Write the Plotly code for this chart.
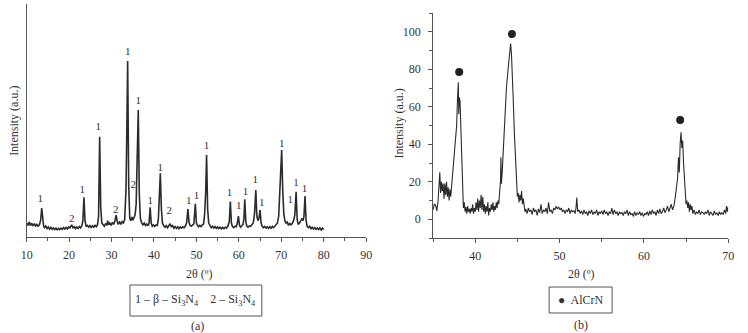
import plotly.graph_objects as go

# ---------------- Panel (a): Si3N4 XRD pattern ----------------
xrd_a_2theta = [
    10.0, 10.3, 10.6, 10.9, 11.2, 11.5, 11.8, 12.1, 12.4, 12.7, 13.0, 13.3, 13.55, 13.8, 14.0,
    14.2, 14.5, 14.8, 15.1, 15.4, 15.7, 16.0, 16.3, 16.6, 16.9, 17.2, 17.5, 17.8, 18.1, 18.4,
    18.7, 19.0, 19.3, 19.6, 19.9, 20.2, 20.6, 20.9, 21.2, 21.5, 21.8, 22.1, 22.4, 22.7, 23.0,
    23.25, 23.5, 23.75, 24.0, 24.3, 24.6, 24.9, 25.2, 25.5, 25.8, 26.1, 26.4, 26.7, 26.95, 27.2,
    27.45, 27.7, 28.0, 28.3, 28.6, 28.9, 29.1, 29.3, 29.6, 29.9, 30.2, 30.5, 30.8, 31.1, 31.35,
    31.6, 31.9, 32.2, 32.5, 32.8, 33.1, 33.4, 33.55, 33.8, 34.05, 34.3, 34.55, 34.8, 35.05, 35.3,
    35.55, 35.8, 36.05, 36.3, 36.55, 36.8, 37.1, 37.4, 37.7, 38.0, 38.3, 38.6, 38.85, 39.1, 39.35,
    39.6, 39.9, 40.2, 40.5, 40.8, 41.05, 41.25, 41.5, 41.75, 42.0, 42.3, 42.6, 42.9, 43.2, 43.5,
    43.8, 44.1, 44.4, 44.7, 45.0, 45.3, 45.6, 45.9, 46.2, 46.5, 46.8, 47.1, 47.4, 47.7, 48.0,
    48.25, 48.5, 48.8, 49.1, 49.4, 49.75, 50.0, 50.25, 50.5, 50.8, 51.1, 51.4, 51.7, 51.95, 52.2,
    52.4, 52.65, 52.9, 53.2, 53.5, 53.8, 54.1, 54.4, 54.7, 55.0, 55.3, 55.6, 55.9, 56.2, 56.5,
    56.8, 57.1, 57.4, 57.75, 58.0, 58.25, 58.5, 58.8, 59.1, 59.4, 59.65, 59.9, 60.15, 60.4, 60.7,
    61.0, 61.2, 61.4, 61.65, 61.9, 62.2, 62.5, 62.8, 63.1, 63.4, 63.7, 64.0, 64.25, 64.5, 64.75,
    65.0, 65.25, 65.5, 65.8, 66.1, 66.4, 66.7, 67.0, 67.3, 67.6, 67.9, 68.2, 68.5, 68.8, 69.1,
    69.4, 69.65, 69.85, 70.1, 70.35, 70.6, 70.85, 71.1, 71.4, 71.7, 72.0, 72.3, 72.6, 72.9, 73.2,
    73.5, 73.75, 74.0, 74.3, 74.6, 74.9, 75.15, 75.35, 75.6, 75.85, 76.1, 76.4, 76.7, 77.0, 77.3,
    77.6, 77.9, 78.2, 78.5, 78.8, 79.1, 79.4, 79.7, 80.0,
]
xrd_a_intensity = [
    6.0, 5.0, 6.4, 4.9, 5.9, 4.8, 5.7, 4.7, 5.4, 4.6, 5.2, 7.2, 12.4, 6.0, 4.6,
    4.0, 4.7, 3.6, 4.3, 3.4, 4.1, 3.3, 3.9, 3.2, 3.8, 3.1, 3.7, 3.2, 3.8, 3.3,
    4.0, 3.4, 4.1, 3.5, 4.3, 3.9, 5.2, 4.0, 4.4, 3.6, 4.3, 3.7, 4.5, 3.9, 4.8,
    7.0, 17.0, 7.0, 4.5, 5.0, 4.2, 4.9, 4.1, 4.8, 4.2, 5.0, 4.4, 5.3, 9.0, 43.0,
    13.0, 6.0, 5.5, 4.6, 5.8, 5.0, 7.0, 5.2, 6.0, 5.0, 6.2, 5.4, 7.0, 9.4, 6.5,
    5.4, 6.4, 5.6, 6.6, 6.0, 7.5, 20.0, 38.0, 75.5, 22.0, 8.0, 7.0, 8.6, 7.2, 9.0,
    9.5, 14.0, 35.0, 54.5, 18.0, 8.0, 6.0, 5.2, 6.0, 5.0, 5.6, 4.8, 6.0, 12.8, 6.0,
    4.6, 5.2, 4.5, 5.2, 5.0, 8.0, 16.0, 27.4, 12.0, 6.0, 4.8, 4.2, 4.9, 4.0, 4.8,
    5.7, 4.4, 4.9, 3.8, 4.5, 3.7, 4.4, 3.6, 4.3, 3.8, 4.4, 4.0, 4.7, 6.0, 12.0,
    6.5, 5.0, 4.6, 5.3, 5.6, 14.2, 6.0, 5.0, 4.4, 5.0, 4.5, 5.2, 5.6, 10.0, 20.0,
    35.2, 12.0, 6.0, 4.6, 4.0, 4.6, 3.9, 4.5, 3.7, 4.3, 3.6, 4.2, 3.5, 4.1, 3.6,
    4.2, 3.8, 4.6, 6.5, 15.2, 6.0, 4.5, 4.0, 4.6, 4.4, 6.0, 9.0, 5.0, 4.2, 4.8,
    5.5, 8.0, 16.2, 6.5, 4.6, 4.2, 4.8, 4.6, 5.4, 6.0, 10.0, 20.2, 9.0, 7.0, 8.0,
    11.6, 6.0, 4.6, 4.0, 4.5, 3.8, 4.3, 3.7, 4.4, 3.8, 4.5, 4.0, 4.8, 5.4, 6.0,
    9.0, 22.0, 32.0, 37.3, 20.0, 10.0, 7.0, 6.0, 6.4, 5.0, 5.8, 5.2, 5.8, 7.0, 9.5,
    19.4, 7.5, 5.4, 6.0, 7.0, 8.0, 7.0, 9.0, 17.6, 7.0, 4.6, 4.0, 4.6, 3.6, 4.2,
    3.4, 4.0, 3.3, 3.9, 3.2, 3.9, 3.0, 3.8, 3.2,
]
label_a_x = [13.2, 20.6, 23.1, 26.9, 31.0, 33.8, 35.1, 36.3, 39.1, 41.5, 43.6, 48.2,
             50.0, 52.4, 57.8, 60.0, 61.6, 63.9, 65.4, 70.1, 72.1, 73.5, 75.5]
label_a_y = [16.2, 7.7, 19.9, 47.1, 11.6, 79.3, 22.3, 58.1, 15.2, 29.7, 10.9, 15.5,
             17.3, 38.8, 18.8, 13.0, 19.0, 24.5, 14.5, 39.9, 15.9, 23.0, 20.7]
label_a_text = ["1", "2", "1", "1", "2", "1", "2", "1", "1", "1", "2", "1",
                "1", "1", "1", "1", "1", "1", "1", "1", "1", "1", "1"]
ticks_a = [10, 20, 30, 40, 50, 60, 70, 80, 90]

# ---------------- Panel (b): AlCrN XRD pattern ----------------
xrd_b_2theta = [
    35.0, 35.15, 35.3, 35.45, 35.6, 35.7, 35.8, 35.9, 36.0, 36.1, 36.2, 36.3, 36.4, 36.5, 36.6,
    36.7, 36.8, 36.9, 37.0, 37.1, 37.2, 37.3, 37.45, 37.65, 37.8, 37.9, 38.0, 38.05, 38.1, 38.2,
    38.3, 38.4, 38.5, 38.6, 38.7, 38.8, 38.9, 39.0, 39.1, 39.2, 39.3, 39.4, 39.5, 39.6, 39.7,
    39.8, 39.9, 40.0, 40.1, 40.2, 40.3, 40.4, 40.5, 40.6, 40.7, 40.8, 40.9, 41.0, 41.1, 41.2,
    41.3, 41.4, 41.5, 41.6, 41.7, 41.8, 41.9, 42.0, 42.1, 42.2, 42.3, 42.4, 42.5, 42.6, 42.7,
    42.8, 42.9, 43.0, 43.05, 43.1, 43.2, 43.35, 43.5, 43.7, 43.9, 44.05, 44.2, 44.3, 44.4, 44.5,
    44.65, 44.8, 44.9, 45.0, 45.1, 45.2, 45.3, 45.4, 45.5, 45.6, 45.7, 45.8,
    45.9, 46.0, 46.15, 46.3, 46.45, 46.6, 46.75, 46.9, 47.05, 47.2, 47.35, 47.5, 47.65, 47.8, 47.95,
    48.1, 48.25, 48.4, 48.55, 48.7, 48.85, 49.0, 49.15, 49.3, 49.45, 49.6, 49.75, 49.9, 50.05, 50.2,
    50.35, 50.5, 50.65, 50.8, 50.95, 51.1, 51.25, 51.4, 51.55, 51.7, 51.85, 51.95, 52.05, 52.15, 52.3,
    52.45, 52.6, 52.75, 52.9, 53.05, 53.2, 53.35, 53.5, 53.65, 53.8, 53.95, 54.1, 54.25, 54.4, 54.55,
    54.7, 54.85, 55.0, 55.15, 55.3, 55.45, 55.6, 55.75, 55.9, 56.05, 56.2, 56.35, 56.5, 56.65, 56.8,
    56.95, 57.1, 57.25, 57.4, 57.55, 57.7, 57.85, 58.0, 58.15, 58.3, 58.45, 58.6, 58.75, 58.9, 59.05,
    59.2, 59.35, 59.5, 59.65, 59.8, 59.95, 60.1, 60.25, 60.4, 60.55, 60.7, 60.85, 61.0, 61.15, 61.3,
    61.45, 61.6, 61.75, 61.9, 62.05, 62.2, 62.35, 62.5, 62.65, 62.8, 62.95, 63.1, 63.25, 63.4, 63.55,
    63.7, 63.8, 63.9, 64.0, 64.1, 64.2, 64.3, 64.4, 64.5, 64.6, 64.7, 64.8, 64.9, 65.0, 65.1,
    65.2, 65.3, 65.4, 65.5, 65.6, 65.7, 65.8, 65.95, 66.1, 66.25, 66.4, 66.55, 66.7, 66.85, 67.0,
    67.15, 67.3, 67.45, 67.6, 67.75, 67.9, 68.05, 68.2, 68.35, 68.5, 68.65, 68.8, 68.95, 69.1, 69.25,
    69.4, 69.55, 69.7, 69.8, 69.9, 70.0,
]
xrd_b_intensity = [
    5.0, 8.0, 7.5, 4.5, 10.0, 16.0, 25.0, 14.0, 20.0, 15.0, 19.0, 11.0, 19.0, 13.0, 20.0,
    12.0, 17.0, 10.0, 16.0, 12.0, 18.0, 21.0, 30.0, 42.5, 50.0, 64.0, 73.0, 56.0, 65.0, 63.0,
    46.0, 30.0, 14.0, 6.0, 9.0, 4.0, 6.5, 3.0, 7.0, 4.0, 5.5, 3.0, 6.0, 4.0, 8.0,
    3.0, 6.0, 4.0, 9.0, 5.0, 11.0, 4.0, 10.0, 6.0, 13.0, 5.0, 12.0, 4.0, 8.0, 3.0,
    7.0, 4.0, 9.0, 2.0, 6.0, 4.0, 8.0, 5.0, 9.0, 4.0, 7.0, 5.0, 9.0, 6.0, 10.0,
    8.0, 15.0, 20.0, 33.0, 19.0, 25.0, 40.0, 55.0, 70.0, 80.0, 88.0, 93.7, 88.0, 80.0, 65.0,
    45.0, 30.0, 20.0, 12.0, 14.0, 9.0, 13.0, 10.0, 15.0, 8.0, 11.0, 6.0,
    4.0, 5.5, 3.0, 6.0, 4.0, 5.0, 2.5, 6.0, 4.0, 5.0, 2.0, 5.5, 3.5, 8.0, 3.0,
    5.0, 4.0, 6.0, 3.0, 9.0, 4.0, 5.0, 3.0, 6.0, 5.0, 7.0, 5.5, 6.5, 5.0, 6.0,
    4.0, 5.0, 3.0, 5.0, 4.0, 6.0, 3.0, 5.0, 4.0, 4.5, 3.0, 6.0, 11.6, 4.0, 5.0,
    3.0, 4.5, 2.5, 5.0, 3.0, 4.0, 2.0, 4.5, 3.0, 5.0, 2.5, 4.0, 3.0, 5.0, 2.0,
    4.0, 3.0, 4.5, 2.5, 5.0, 3.0, 4.0, 2.0, 4.0, 3.0, 6.0, 2.5, 5.0, 3.0, 4.0,
    2.0, 4.0, 3.0, 3.5, 2.0, 4.0, 3.0, 5.0, 2.0, 4.0, 2.5, 3.0, 1.5, 4.0, 2.0,
    3.5, 2.5, 4.0, 2.0, 3.5, 1.5, 3.0, 2.5, 4.0, 2.0, 4.5, 2.5, 5.0, 3.0, 4.0,
    2.0, 5.0, 3.0, 5.5, 3.0, 4.0, 6.0, 3.5, 5.0, 7.0, 4.0, 6.0, 8.0, 5.0, 7.0,
    11.0, 15.0, 18.0, 22.0, 33.0, 25.0, 40.0, 46.4, 38.0, 42.0, 30.0, 20.0, 15.0, 8.0, 10.0,
    6.0, 9.0, 4.0, 8.0, 5.0, 7.0, 3.0, 5.0, 2.5, 4.0, 3.0, 5.0, 2.5, 4.0, 3.5,
    2.5, 4.0, 3.0, 5.0, 2.0, 4.0, 3.0, 2.0, 4.5, 2.5, 3.5, 2.0, 4.0, 2.5, 3.5,
    2.5, 5.0, 3.0, 7.0, 4.0, 6.5,
]
marker_b_x = [38.1, 44.35, 64.3]
marker_b_y = [78.6, 98.75, 52.9]
ticks_b_x = [40, 50, 60, 70]
ticks_b_y = [0, 20, 40, 60, 80, 100]

# ---------------- Figure ----------------
W, H = 748, 333
FONT = "Liberation Serif"
TXT = "#333333"
AX = "#555555"


def px(x):
    return x / W


def py(y):
    return 1 - y / H


fig = go.Figure()

fig.add_trace(go.Scatter(x=xrd_a_2theta, y=xrd_a_intensity, mode="lines",
                         line=dict(color="#2b2b2b", width=1.6),
                         xaxis="x", yaxis="y", showlegend=False, hoverinfo="skip"))
fig.add_trace(go.Scatter(x=label_a_x, y=label_a_y, text=label_a_text, mode="text",
                         textfont=dict(family=FONT, size=11, color=TXT),
                         xaxis="x", yaxis="y", showlegend=False, hoverinfo="skip"))

fig.add_trace(go.Scatter(x=xrd_b_2theta, y=xrd_b_intensity, mode="lines",
                         line=dict(color="#2b2b2b", width=1.1),
                         xaxis="x2", yaxis="y2", showlegend=False, hoverinfo="skip"))
fig.add_trace(go.Scatter(x=marker_b_x, y=marker_b_y, mode="markers",
                         marker=dict(color="#222222", size=8),
                         xaxis="x2", yaxis="y2", showlegend=False, hoverinfo="skip"))

common_x = dict(showgrid=False, zeroline=False, showline=True, linecolor=AX, linewidth=1,
                ticks="outside", ticklen=4, tickcolor=AX, tickwidth=1,
                tickfont=dict(family=FONT, size=12, color=TXT), ticklabelstandoff=3)

fig.update_layout(
    width=W, height=H,
    margin=dict(l=0, r=0, t=0, b=0),
    paper_bgcolor="white", plot_bgcolor="white",
    xaxis=dict(domain=[px(21), px(366)], range=[10, 90], anchor="y",
               tickvals=ticks_a, minor=dict(dtick=5, tick0=10, ticks="outside", ticklen=3, tickcolor=AX),
               **common_x),
    yaxis=dict(domain=[py(237), py(4)], range=[0, 100], anchor="x",
               showgrid=False, zeroline=False, showline=True, linecolor=AX, linewidth=1,
               showticklabels=False, ticks=""),
    xaxis2=dict(domain=[px(434), px(734)], range=[35, 70], anchor="y2",
                tickvals=ticks_b_x, minor=dict(dtick=5, tick0=35, ticks="outside", ticklen=3, tickcolor=AX),
                **common_x),
    yaxis2=dict(domain=[py(238), py(13)], range=[-10, 110], anchor="x2",
                showgrid=False, zeroline=False, showline=True, linecolor=AX, linewidth=1,
                ticks="outside", ticklen=4, tickcolor=AX, tickvals=ticks_b_y,
                minor=dict(dtick=10, tick0=0, ticks="outside", ticklen=3, tickcolor=AX),
                tickfont=dict(family=FONT, size=12, color=TXT), ticklabelstandoff=5),
)

annots = [
    dict(text="Intensity (a.u.)", x=px(8), y=py(121), textangle=-90, size=12),
    dict(text="Intensity (a.u.)", x=px(399), y=py(124), textangle=-90, size=12),
    dict(text="2θ (º)", x=px(196), y=py(274), size=12),
    dict(text="2θ (º)", x=px(584), y=py(274), size=12),
    dict(text="1 – β – Si<sub>3</sub>N<sub>4</sub>    2 – Si<sub>3</sub>N<sub>4</sub>",
         x=px(193), y=py(300), size=12),
    dict(text="●  AlCrN", x=px(584), y=py(300), size=12),
    dict(text="(a)", x=px(195), y=py(326), size=12),
    dict(text="(b)", x=px(584), y=py(325), size=12),
]
for a in annots:
    fig.add_annotation(text=a["text"], x=a["x"], y=a["y"], xref="paper", yref="paper",
                       showarrow=False, textangle=a.get("textangle", 0),
                       xanchor="center", yanchor="middle",
                       font=dict(family=FONT, size=a["size"], color=TXT))

fig.add_shape(type="rect", xref="paper", yref="paper",
              x0=px(126), x1=px(260), y0=py(316), y1=py(285),
              line=dict(color=AX, width=1))
fig.add_shape(type="rect", xref="paper", yref="paper",
              x0=px(552), x1=px(616), y0=py(313), y1=py(287),
              line=dict(color=AX, width=1))

fig.write_html("out.html")
